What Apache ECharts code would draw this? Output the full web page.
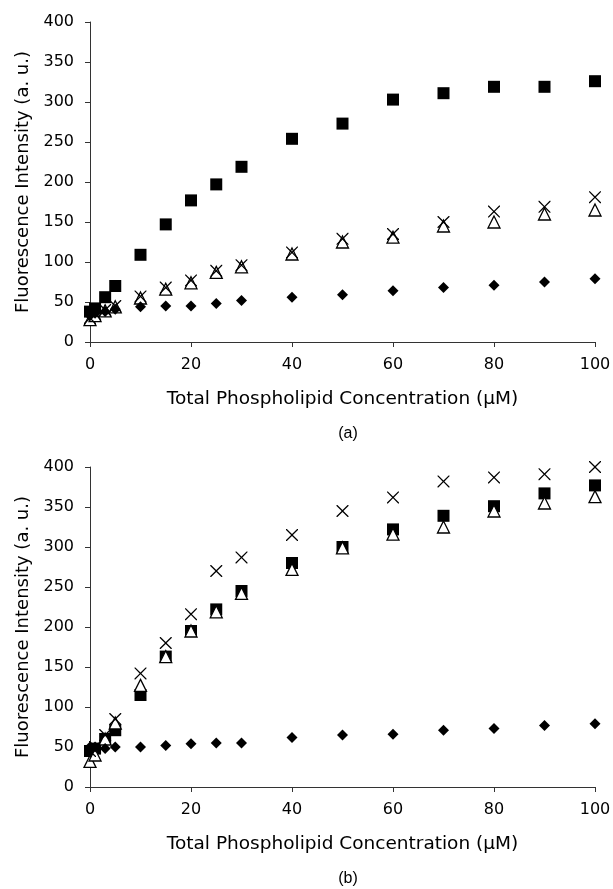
<!DOCTYPE html>
<html>
<head>
<meta charset="utf-8">
<script src="https://cdn.jsdelivr.net/npm/echarts@6/dist/echarts.min.js"></script>
<style>
  html, body { margin: 0; padding: 0; background: #fff; }
  #chart { width: 613px; height: 889px; }
</style>
</head>
<body>
<div id="chart"></div>
<script>
// concentration (uM)
var conc = [0, 1, 3, 5, 10, 15, 20, 25, 30, 40, 50, 60, 70, 80, 90, 100];

// panel (a)
var aSquare   = [38, 42, 56, 70, 109, 147, 177, 197, 219, 254, 273, 303, 311, 319, 319, 326];
var aDiamond  = [33, 36, 38, 41, 44, 45, 45, 48, 52, 56, 59, 64, 68, 71, 75, 79];
var aCross    = [30, 35, 40, 45, 57, 68, 77, 89, 96, 112, 129, 135, 150, 163, 169, 181];
var aTriangle = [28, 33, 39, 44, 55, 66, 74, 87, 94, 110, 125, 131, 145, 150, 160, 165];

// panel (b)
var bSquare   = [45, 48, 60, 71, 115, 163, 195, 222, 245, 280, 300, 322, 339, 351, 367, 377];
var bDiamond  = [50, 50, 48, 50, 50, 52, 54, 55, 55, 62, 65, 66, 71, 73, 77, 79];
var bCross    = [45, 50, 65, 85, 142, 180, 216, 270, 287, 315, 345, 362, 382, 387, 391, 400];
var bTriangle = [32, 40, 60, 80, 127, 163, 195, 219, 242, 272, 299, 316, 325, 345, 355, 363];

var FONT = 'DejaVu Sans';
var crossPath = 'path://M0,0 L1.5,0 L10,8.5 L18.5,0 L20,0 L20,1.5 L11.5,10 L20,18.5 L20,20 L18.5,20 L10,11.5 L1.5,20 L0,20 L0,18.5 L8.5,10 L0,1.5 Z';

var pairs = function(ys){
	var out = [];
	for (var i = 0; i < conc.length; i++) out.push([conc[i], ys[i]]);
	return out;
};

var makeSeries = function(idx, sq, di, cr, tr){
	return [
		{ type: 'scatter', xAxisIndex: idx, yAxisIndex: idx, data: pairs(tr), symbol: 'triangle', symbolSize: [12, 12],
		  itemStyle: { color: '#fff', borderColor: '#000', borderWidth: 1.3, opacity: 1 }, z: 2 },
		{ type: 'scatter', xAxisIndex: idx, yAxisIndex: idx, data: pairs(cr), symbol: crossPath, symbolSize: 12,
		  itemStyle: { color: '#000', opacity: 1 }, z: 3 },
		{ type: 'scatter', xAxisIndex: idx, yAxisIndex: idx, data: pairs(sq), symbol: 'rect', symbolSize: 12,
		  itemStyle: { color: '#000', opacity: 1 }, z: 1 },
		{ type: 'scatter', xAxisIndex: idx, yAxisIndex: idx, data: pairs(di), symbol: 'diamond', symbolSize: [11, 11],
		  itemStyle: { color: '#000', opacity: 1 }, z: 4 }
	];
};

var xAx = function(idx){
	return {
		gridIndex: idx, type: 'value', min: 0, max: 100, interval: 20,
		name: 'Total Phospholipid Concentration (\u00b5M)', nameLocation: 'middle', nameGap: 48,
		nameTextStyle: { fontFamily: FONT, fontSize: 18.5, color: '#000' },
		axisLine: { lineStyle: { color: '#333', width: 1 } },
		axisTick: { show: true, length: 5, lineStyle: { color: '#333' } },
		axisLabel: { fontFamily: FONT, fontSize: 16, color: '#000', margin: 15 },
		splitLine: { show: false }
	};
};
var yAx = function(idx){
	return {
		gridIndex: idx, type: 'value', min: 0, max: 400, interval: 50,
		name: 'Fluorescence Intensity (a. u.)', nameLocation: 'middle', nameGap: 51, nameRotate: 90,
		nameTextStyle: { fontFamily: FONT, fontSize: 18, color: '#000' },
		axisLine: { show: true, lineStyle: { color: '#333', width: 1 } },
		axisTick: { show: true, length: 5, lineStyle: { color: '#333' } },
		axisLabel: { fontFamily: FONT, fontSize: 16, color: '#000', margin: 16 },
		splitLine: { show: false }
	};
};

var chart = echarts.init(document.getElementById('chart'));
chart.setOption({
	animation: false,
	title: [
		{ text: '(a)', left: 343, top: 421, textAlign: 'center', textStyle: { fontFamily: 'Liberation Sans', fontSize: 16, fontWeight: 'normal', color: '#000' } },
		{ text: '(b)', left: 343, top: 866, textAlign: 'center', textStyle: { fontFamily: 'Liberation Sans', fontSize: 16, fontWeight: 'normal', color: '#000' } }
	],
	grid: [
		{ left: 90, right: 18, top: 22, height: 320, outerBoundsMode: 'none' },
		{ left: 90, right: 18, top: 467, height: 320, outerBoundsMode: 'none' }
	],
	xAxis: [xAx(0), xAx(1)],
	yAxis: [yAx(0), yAx(1)],
	series: makeSeries(0, aSquare, aDiamond, aCross, aTriangle)
		.concat(makeSeries(1, bSquare, bDiamond, bCross, bTriangle))
});
</script>
</body>
</html>
